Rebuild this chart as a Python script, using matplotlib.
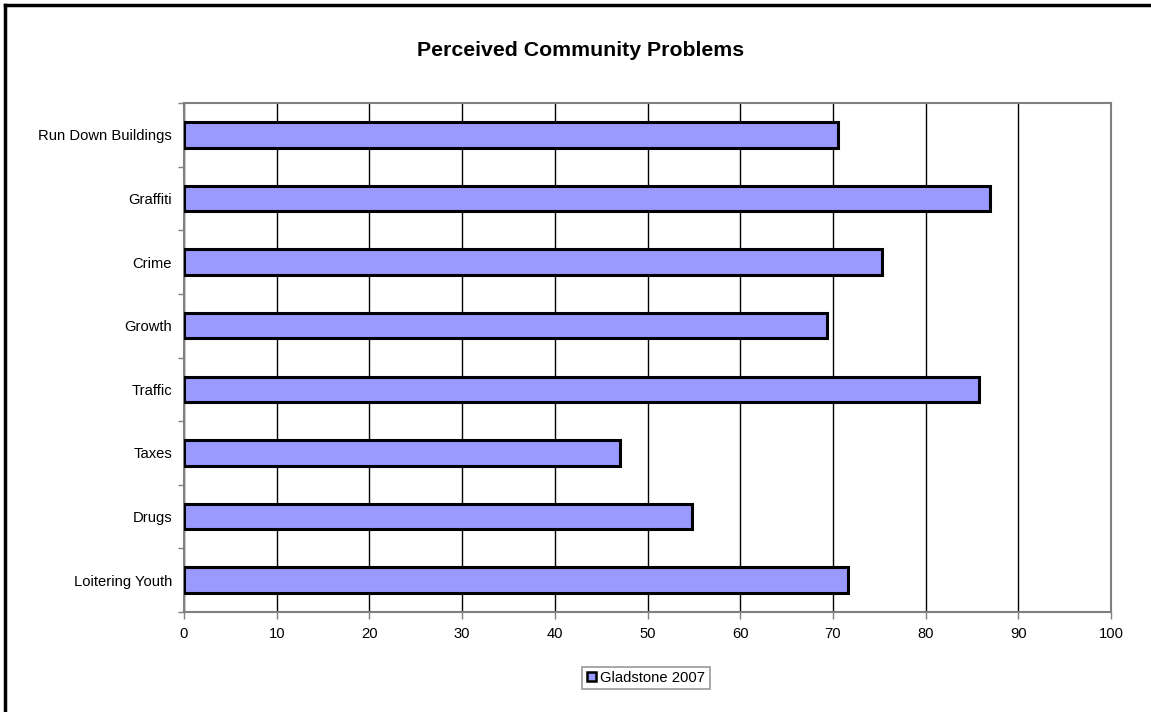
import matplotlib
matplotlib.use("Agg")
import matplotlib.pyplot as plt
from matplotlib.lines import Line2D
from matplotlib.patches import Rectangle
import numpy as np

plt.rcParams['font.family'] = ['Liberation Sans', 'DejaVu Sans']

categories = ["Loitering Youth", "Drugs", "Taxes", "Traffic",
              "Growth", "Crime", "Graffiti", "Run Down Buildings"]
values = [71.6, 54.8, 47.0, 85.8, 69.4, 75.3, 87.0, 70.5]
series_name = "Gladstone 2007"
x_ticks = list(range(0, 101, 10))

W, H, DPI = 1151, 712, 100
fig = plt.figure(figsize=(W / DPI, H / DPI), dpi=DPI)
ax = fig.add_axes([184 / W, 1 - 612 / H, (1111 - 184) / W, (612 - 103) / H])

bar_color = "#9999FF"
y = np.arange(len(categories))
ax.barh(y, values, height=0.4, color=bar_color, edgecolor="black",
        linewidth=2.2, zorder=3, label=series_name)

ax.set_xlim(0, 100)
ax.set_ylim(-0.5, len(categories) - 0.5)
ax.set_xticks(x_ticks)
ax.set_xticklabels([str(t) for t in x_ticks], fontsize=10.6)
ax.set_yticks(y)
ax.set_yticklabels(categories, fontsize=10.6)
ax.tick_params(axis="y", length=0, pad=8.5)
ax.set_yticks(np.arange(-0.5, len(categories), 1), minor=True)
ax.tick_params(axis="y", which="minor", length=4, width=1, color="#808080", direction="out")
ax.tick_params(axis="x", length=5, width=1, color="#808080", direction="out", pad=6)

ax.xaxis.grid(True, color="black", linewidth=1, zorder=0)
ax.set_axisbelow(True)
for side in ["left", "bottom", "top", "right"]:
    ax.spines[side].set_color("#808080")
    ax.spines[side].set_linewidth(1.5)

fig.text(581 / W, 1 - 50 / H, "Perceived Community Problems",
         ha="center", va="center", fontsize=15.3, fontweight="bold")

# legend below the plot
leg = fig.legend(handles=[Rectangle((0, 0), 1, 1, facecolor=bar_color, edgecolor="black", linewidth=1.8)],
                 labels=[series_name], loc="center", bbox_to_anchor=(646 / W, 1 - 678 / H),
                 fontsize=10.6, frameon=True, fancybox=False, handlelength=0.6, handleheight=0.6,
                 handletextpad=0.3, borderpad=0.3, borderaxespad=0)
leg.get_frame().set_edgecolor("#808080")
leg.get_frame().set_linewidth(1.2)

# outer frame of the chart
fig.add_artist(Line2D([5 / W, 5 / W], [0, 1 - 5 / H], transform=fig.transFigure, color="black", linewidth=2.5))
fig.add_artist(Line2D([5 / W, 1], [1 - 5 / H, 1 - 5 / H], transform=fig.transFigure, color="black", linewidth=2.5))

fig.savefig("out.png", dpi=DPI, facecolor="white")
